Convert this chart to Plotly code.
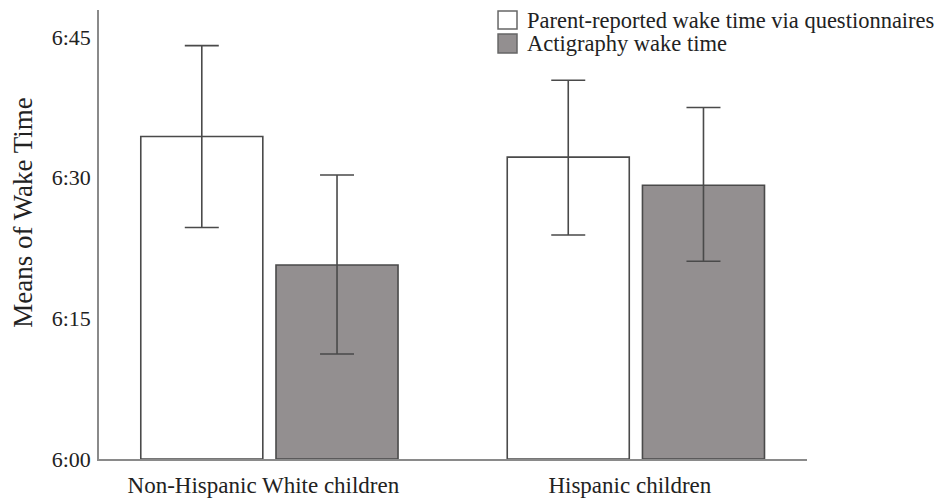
import plotly.graph_objects as go

categories = ["Non-Hispanic White children", "Hispanic children"]
series_names = ["Parent-reported wake time via questionnaires", "Actigraphy wake time"]
# minutes after 6:00
parent_mean = [34.4, 32.2]
parent_upper = [44.1, 40.4]
parent_lower = [24.7, 23.9]
acti_mean = [20.7, 29.2]
acti_upper = [30.3, 37.5]
acti_lower = [11.2, 21.1]
tick_vals = [0, 15, 30, 45]
tick_text = ["6:00", "6:15", "6:30", "6:45"]

FONT = "Liberation Serif, Times New Roman, serif"
EDGE = "#4a4a4a"
FILLS = ["white", "#938f90"]
TXT = "#222222"

def err(mean, up, lo):
    return dict(type="data", symmetric=False,
                array=[u - m for u, m in zip(up, mean)],
                arrayminus=[m - l for m, l in zip(mean, lo)],
                color=EDGE, thickness=1.6, width=17)

fig = go.Figure()
fig.add_trace(go.Bar(x=categories, y=parent_mean, name=series_names[0],
                     marker=dict(color=FILLS[0], line=dict(color=EDGE, width=1.6)),
                     width=0.333, offset=-0.351, showlegend=False,
                     error_y=err(parent_mean, parent_upper, parent_lower)))
fig.add_trace(go.Bar(x=categories, y=acti_mean, name=series_names[1],
                     marker=dict(color=FILLS[1], line=dict(color=EDGE, width=1.6)),
                     width=0.333, offset=0.018, showlegend=False,
                     error_y=err(acti_mean, acti_upper, acti_lower)))

# legend drawn as swatches + text
legend_rows = [(0.9577, 0.9978, 0.9777), (0.9042, 0.9465, 0.9254)]
shapes = []
annotations = []
for (y0, y1, yc), name, fill in zip(legend_rows, series_names, FILLS):
    shapes.append(dict(type="rect", xref="paper", yref="paper",
                       x0=0.5636, x1=0.5904, y0=y0, y1=y1,
                       fillcolor=fill, line=dict(color="#666666", width=1.5)))
    annotations.append(dict(text=name, xref="paper", yref="paper", x=0.602, y=yc,
                            xanchor="left", yanchor="middle", showarrow=False,
                            font=dict(family=FONT, size=22.5, color=TXT)))

annotations.append(dict(text="Means of Wake Time", xref="paper", yref="paper",
                        x=-0.107, y=0.549, xanchor="center", yanchor="middle",
                        textangle=-90, showarrow=False,
                        font=dict(family=FONT, size=27, color=TXT)))

fig.update_layout(
    width=948, height=500,
    margin=dict(l=99, r=141, t=10, b=41, autoexpand=False),
    paper_bgcolor="white", plot_bgcolor="white",
    font=dict(family=FONT, size=22, color=TXT),
    barmode="group",
    showlegend=False,
    xaxis=dict(range=[-0.465, 1.467], showline=True, linecolor="#8a8a8a", linewidth=1.5,
               showgrid=False, ticks="", ticklabelstandoff=5, ticklabelshift=-6,
               automargin=False,
               tickfont=dict(family=FONT, size=23, color=TXT)),
    yaxis=dict(range=[0, 47.9], tickvals=tick_vals, ticktext=tick_text,
               showline=True, linecolor="#8a8a8a", linewidth=1.5, automargin=False,
               showgrid=False, zeroline=False, ticks="", ticklabelstandoff=2,
               tickfont=dict(family=FONT, size=22, color=TXT)),
    shapes=shapes,
    annotations=annotations,
)

fig.write_html("out.html", config={"displayModeBar": False},
               post_script="document.body.style.margin='0';document.body.style.overflow='hidden';")
